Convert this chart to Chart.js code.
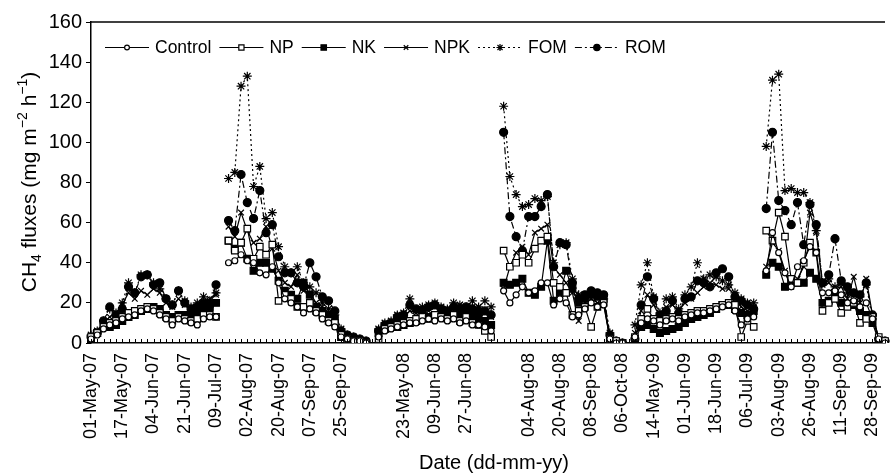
<!DOCTYPE html>
<html>
<head>
<meta charset="utf-8">
<script src="https://cdn.jsdelivr.net/npm/chart.js@4/dist/chart.umd.min.js"></script>
<style>
  html, body { margin: 0; padding: 0; background: #fff; }
</style>
</head>
<body>
<canvas id="chart" width="891" height="475"></canvas>
<script>
// tick labels, one every 5 sampling dates ('' where the season gap is)
const tickLabels = [
  '01-May-07', '17-May-07', '04-Jun-07', '21-Jun-07', '09-Jul-07', '02-Aug-07',
  '20-Aug-07', '07-Sep-07', '25-Sep-07', '', '23-May-08', '09-Jun-08', '27-Jun-08',
  '', '04-Aug-08', '20-Aug-08', '08-Sep-08', '06-Oct-08', '14-May-09', '01-Jun-09',
  '18-Jun-09', '06-Jul-09', '03-Aug-09', '26-Aug-09', '11-Sep-09', '28-Sep-09'
];
const nDates = 128;

// CH4 flux (mg m-2 h-1); null = no sampling (breaks between periods)
const control = [
  2, 4, 7, 9, 10, 12, 13, 14, 16, 17, 16, 14, 12, 9, 12, 11, 10, 9, 12, 13, 13, null,
  40, 41, 44, 41, 40, 35, 34, 38, 30, 22, 20, 18, 15, 17, 15, 12, 10, 8, 3, 2, 1, 1, 0, null,
  3, 6, 7, 8, 9, 10, 10, 11, 12, 11, 12, 11, 12, 10, 11, 9, 9, 8, 6, null,
  26, 20, 24, 28, 25, 26, 30, 30, 19, 22, 20, 13, 14, 17, 20, 18, 19, 2, 0, 0, null,
  3, 10, 12, 11, 9, 11, 12, 11, 13, 14, 15, 15, 16, 17, 18, 19, 16, 9, 12, 13, null,
  36, 55, 45, 35, 28, 38, 41, 48, 45, 25, 25, 26, 24, 20, 21, 18, 20, 12, 2, 0
];
const np = [
  3, 5, 8, 10, 11, 13, 15, 16, 17, 18, 17, 15, 13, 11, 13, 12, 11, 12, 14, 14, 13, null,
  51, 46, 50, 57, 42, 48, 44, 49, 21, 24, 22, 18, 18, 20, 16, 14, 11, 10, 4, 2, 1, 1, 0, null,
  2, 7, 8, 9, 10, 11, 12, 13, 12, 14, 13, 12, 14, 11, 13, 10, 9, 6, 3, null,
  46, 38, 40, 44, 40, 47, 51, 53, 30, 28, 25, 14, 16, 18, 8, 18, 20, 2, 1, 0, null,
  3, 12, 17, 12, 11, 12, 13, 12, 14, 15, 16, 16, 17, 18, 19, 20, 19, 3, 11, 8, null,
  56, 51, 65, 53, 32, 30, 40, 50, 45, 16, 20, 22, 15, 18, 20, 10, 12, 13, 3, 1
];
const nk = [
  2, 5, 8, 8, 9, 11, 13, 14, 16, 17, 18, 17, 14, 13, 14, 14, 15, 15, 17, 18, 20, null,
  51, 47, 50, 42, 36, 40, 40, 37, 31, 26, 24, 22, 30, 24, 18, 16, 14, 12, 3, 2, 1, 1, 0, null,
  5, 7, 8, 8, 9, 10, 11, 12, 13, 13, 14, 13, 14, 15, 15, 14, 13, 11, 9, null,
  30, 29, 30, 32, 25, 24, 28, 51, 21, 25, 36, 27, 20, 22, 24, 23, 22, 2, 0, 0, null,
  2, 8, 9, 7, 5, 6, 7, 8, 10, 12, 13, 14, 15, 17, 19, 19, 17, 15, 14, 16, null,
  34, 40, 38, 28, 30, 30, 30, 35, 32, 20, 21, 25, 20, 19, 19, 16, 14, 10, 1, 0
];
const npk = [
  3, 6, 10, 13, 15, 19, 25, 22, 26, 24, 27, 25, 20, 18, 22, 19, 17, 18, 20, 22, 24, null,
  58, 53, 65, 56, 50, 52, 58, 47, 36, 30, 28, 34, 26, 25, 20, 18, 15, 12, 5, 3, 2, 1, 1, null,
  6, 9, 10, 12, 13, 16, 15, 17, 16, 18, 17, 16, 18, 19, 17, 18, 16, 15, 13, null,
  27, 38, 45, 48, 44, 55, 57, 59, 38, 34, 30, 25, 11, 20, 22, 20, 21, 3, 1, 0, null,
  5, 16, 24, 19, 13, 18, 19, 16, 20, 22, 25, 28, 30, 29, 27, 27, 24, 18, 16, 18, null,
  38, 50, 46, 36, 28, 32, 38, 65, 55, 29, 30, 27, 28, 22, 33, 20, 32, 14, 2, 0
];
const fom = [
  4, 6, 11, 17, 15, 20, 30, 25, 34, 34, 30, 27, 22, 19, 26, 21, 18, 20, 23, 21, 25, null,
  82, 85, 128, 133, 78, 88, 62, 65, 48, 38, 35, 38, 30, 28, 25, 20, 17, 14, 7, 4, 3, 2, 1, null,
  7, 10, 11, 14, 15, 22, 16, 18, 19, 20, 18, 17, 20, 19, 18, 21, 18, 21, 18, null,
  118, 83, 74, 68, 69, 72, 71, 73, 40, 49, 50, 32, 24, 22, 25, 24, 22, 5, 1, 0, null,
  9, 29, 40, 23, 15, 22, 23, 17, 24, 28, 40, 32, 34, 33, 31, 29, 25, 22, 20, 20, null,
  98, 131, 134, 76, 77, 75, 75, 70, 56, 30, 32, 28, 30, 25, 24, 23, 29, 12, 2, 1
];
const rom = [
  3, 5, 11, 18, 14, 17, 28, 25, 33, 34, 29, 30, 22, 19, 26, 20, 17, 18, 20, 19, 29, null,
  61, 56, 84, 70, 62, 76, 55, 59, 43, 35, 35, 30, 28, 40, 33, 23, 21, 16, 6, 4, 3, 2, 1, null,
  6, 9, 10, 13, 14, 19, 17, 16, 18, 19, 17, 16, 18, 17, 18, 17, 16, 16, 14, null,
  105, 63, 53, 46, 63, 63, 68, 74, 38, 50, 49, 30, 22, 24, 26, 25, 24, 4, 1, 0, null,
  2, 19, 33, 22, 14, 16, 21, 15, 22, 23, 31, 30, 28, 35, 37, 33, 23, 21, 19, 17, null,
  67, 105, 71, 66, 59, 70, 49, 69, 59, 30, 34, 52, 31, 28, 25, 24, 30, 14, 2, 1
];

const FONT = "'Liberation Sans', Arial, Helvetica, sans-serif";
const categories = [];
for (let i = 0; i < nDates; i++) categories.push(i % 5 === 0 ? tickLabels[i / 5] : '');

function series(label, data, style, radius, fill, dash) {
  return {
    label: label,
    data: data,
    borderColor: '#000',
    borderWidth: 1.2,
    borderDash: dash,
    pointStyle: style,
    pointRadius: radius,
    pointBorderWidth: 1.2,
    pointBorderColor: '#000',
    pointBackgroundColor: fill,
    backgroundColor: fill,
    fill: false,
    tension: 0
  };
}

const datasets = [
  series('Control', control, 'circle', 3, '#fff', []),
  series('NP', np, 'rect', 4.6, '#fff', []),
  series('NK', nk, 'rect', 4.8, '#000', []),
  series('NPK', npk, 'crossRot', 4, '#000', []),
  series('FOM', fom, 'star', 4.5, '#000', [2, 3]),
  series('ROM', rom, 'circle', 4, '#000', [7, 3, 2, 3])
];

// extra drawing: inward x ticks, top frame line, legend line+marker, axis titles
const extras = {
  id: 'extras',
  afterDatasetsDraw(chart) {
    const ctx = chart.ctx;
    const area = chart.chartArea;
    const xs = chart.scales.x;
    ctx.save();
    ctx.strokeStyle = '#000';
    ctx.lineWidth = 1;
    for (let i = 0; i < nDates; i++) {
      const px = Math.round(xs.getPixelForValue(i)) + 0.5;
      ctx.beginPath();
      ctx.moveTo(px, area.bottom);
      ctx.lineTo(px, area.bottom - 4);
      ctx.stroke();
    }
    ctx.lineWidth = 1.5;
    ctx.beginPath();
    ctx.moveTo(area.left, area.top);
    ctx.lineTo(area.right, area.top);
    ctx.stroke();

    // legend
    ctx.font = '17.5px ' + FONT;
    ctx.textBaseline = 'middle';
    ctx.textAlign = 'left';
    let x = 105;
    const y = 47.5;
    chart.data.datasets.forEach(ds => {
      ctx.setLineDash(ds.borderDash);
      ctx.lineWidth = 1.2;
      ctx.beginPath();
      ctx.moveTo(x, y);
      ctx.lineTo(x + 44, y);
      ctx.stroke();
      ctx.setLineDash([]);
      ctx.fillStyle = ds.pointBackgroundColor;
      Chart.helpers.drawPoint(ctx, {
        pointStyle: ds.pointStyle,
        radius: ds.pointRadius * 0.8,
        borderWidth: 1.2,
        rotation: 0
      }, x + 22, y);
      ctx.fillStyle = '#000';
      ctx.fillText(ds.label, x + 50, y + 1);
      x += 50 + ctx.measureText(ds.label).width + 8;
    });

    // x title
    ctx.font = '20px ' + FONT;
    ctx.textAlign = 'center';
    ctx.textBaseline = 'alphabetic';
    ctx.fillText('Date (dd-mm-yy)', 494, 469);

    // y title with sub/superscripts
    const parts = [
      ['CH', 0], ['4', 1], [' fluxes (mg m', 0], ['\u22122', -1], [' h', 0], ['\u22121', -1], [')', 0]
    ];
    const big = '21px ' + FONT, small = '14px ' + FONT;
    let total = 0;
    parts.forEach(p => { ctx.font = p[1] ? small : big; total += ctx.measureText(p[0]).width; });
    ctx.translate(35.5, 182);
    ctx.rotate(-Math.PI / 2);
    ctx.textAlign = 'left';
    let tx = -total / 2;
    parts.forEach(p => {
      ctx.font = p[1] ? small : big;
      const dy = p[1] === 1 ? 5 : (p[1] === -1 ? -9 : 0);
      ctx.fillText(p[0], tx, dy);
      tx += ctx.measureText(p[0]).width;
    });
    ctx.restore();
  }
};

new Chart(document.getElementById('chart').getContext('2d'), {
  type: 'line',
  data: { labels: categories, datasets: datasets },
  plugins: [extras],
  options: {
    responsive: false,
    animation: false,
    devicePixelRatio: 1,
    layout: { padding: { left: 0, right: 0, top: 22, bottom: 0 } },
    plugins: { legend: { display: false }, tooltip: { enabled: false } },
    scales: {
      x: {
        grid: { display: true, drawOnChartArea: false, drawTicks: false },
        border: { display: true, color: '#000', width: 1.5 },
        ticks: {
          autoSkip: false, maxRotation: 90, minRotation: 90, padding: 10,
          color: '#000', font: { size: 18, family: FONT }
        },
        afterFit: s => { s.height = 132; s.paddingLeft = 0; s.paddingRight = 0; }
      },
      y: {
        min: 0, max: 160,
        grid: { drawOnChartArea: false, tickLength: 5, color: '#000' },
        border: { color: '#000', width: 1.5 },
        ticks: { stepSize: 20, padding: 4, color: '#000', font: { size: 20, family: FONT } },
        afterFit: s => { s.width = 91; }
      }
    }
  }
});
</script>
</body>
</html>
